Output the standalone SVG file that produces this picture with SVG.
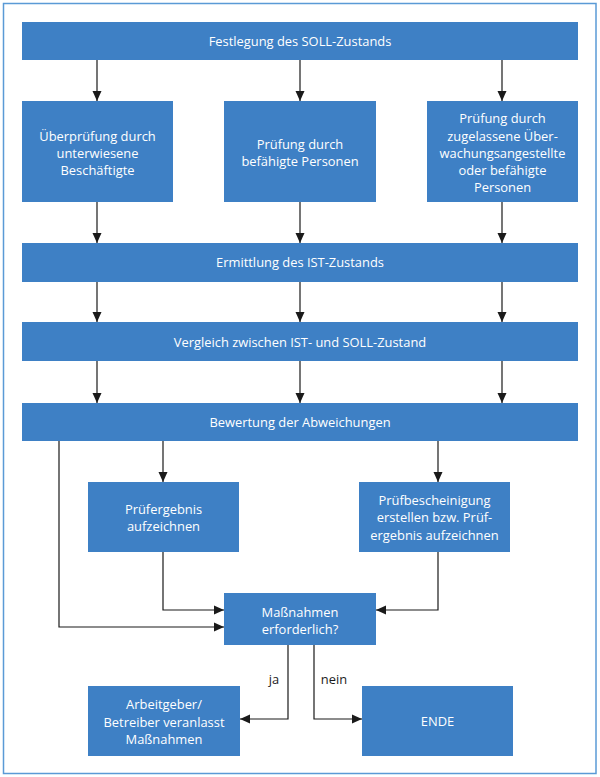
<svg xmlns="http://www.w3.org/2000/svg" width="600" height="777" viewBox="0 0 600 777">
<style>
.box{fill:#3e80c5}
.t{font-family:"Open Sans","Noto Sans",sans-serif;font-size:12.9px;fill:#ffffff;text-anchor:middle}
.l{font-family:"Open Sans","Noto Sans",sans-serif;font-size:12.9px;fill:#1a1a1a;text-anchor:middle}
.c{fill:none;stroke:#1a1a1a;stroke-width:1.2}
</style>
<defs>
<marker id="ah" viewBox="0 0 10 10" refX="10" refY="5" markerWidth="10" markerHeight="10" markerUnits="userSpaceOnUse" orient="auto">
<path d="M0,0.5 L10,5 L0,9.5 Z" fill="#1a1a1a"/>
</marker>
</defs>
<rect x="0" y="0" width="600" height="777" fill="#ffffff"/>
<rect x="3.5" y="3.5" width="592.5" height="770" fill="none" stroke="#5a9ad6" stroke-width="1.5"/>
<g id="connectors">
<path class="c" d="M97,60 V101" marker-end="url(#ah)"/>
<path class="c" d="M300,60 V101" marker-end="url(#ah)"/>
<path class="c" d="M502,60 V101" marker-end="url(#ah)"/>
<path class="c" d="M97,202 V243" marker-end="url(#ah)"/>
<path class="c" d="M300,202 V243" marker-end="url(#ah)"/>
<path class="c" d="M502,202 V243" marker-end="url(#ah)"/>
<path class="c" d="M97,282 V322" marker-end="url(#ah)"/>
<path class="c" d="M300,282 V322" marker-end="url(#ah)"/>
<path class="c" d="M502,282 V322" marker-end="url(#ah)"/>
<path class="c" d="M97,361 V403" marker-end="url(#ah)"/>
<path class="c" d="M300,361 V403" marker-end="url(#ah)"/>
<path class="c" d="M502,361 V403" marker-end="url(#ah)"/>
<path class="c" d="M163,441 V482" marker-end="url(#ah)"/>
<path class="c" d="M438,441 V482" marker-end="url(#ah)"/>
<path class="c" d="M59,441 V627 H224" marker-end="url(#ah)"/>
<path class="c" d="M163,552 V610 H224" marker-end="url(#ah)"/>
<path class="c" d="M438,552 V610 H376" marker-end="url(#ah)"/>
<path class="c" d="M288,645 V719 H240" marker-end="url(#ah)"/>
<path class="c" d="M314,645 V719 H362" marker-end="url(#ah)"/>
<text class="l" x="274" y="684">ja</text>
<text class="l" x="334" y="684">nein</text>
</g>
<g id="soll">
<rect class="box" x="22" y="22" width="556" height="38"/>
<text class="t" x="300" y="45.5">Festlegung des SOLL-Zustands</text>
</g>
<g id="ueberpruefung">
<rect class="box" x="22" y="101" width="151" height="101"/>
<text class="t" x="97.5" y="140.5">Überprüfung durch</text>
<text class="t" x="97.5" y="157.5">unterwiesene</text>
<text class="t" x="97.5" y="174.5">Beschäftigte</text>
</g>
<g id="befaehigte">
<rect class="box" x="224" y="101" width="152" height="101"/>
<text class="t" x="300" y="148.5">Prüfung durch</text>
<text class="t" x="300" y="166">befähigte Personen</text>
</g>
<g id="zugelassene">
<rect class="box" x="427" y="101" width="151" height="101"/>
<text class="t" x="502.5" y="123">Prüfung durch</text>
<text class="t" x="502.5" y="140.5">zugelassene Über-</text>
<text class="t" x="502.5" y="157.5">wachungsangestellte</text>
<text class="t" x="502.5" y="174.5">oder befähigte</text>
<text class="t" x="502.5" y="191.5">Personen</text>
</g>
<g id="ist">
<rect class="box" x="22" y="243" width="556" height="39"/>
<text class="t" x="300" y="267">Ermittlung des IST-Zustands</text>
</g>
<g id="vergleich">
<rect class="box" x="22" y="322" width="556" height="39"/>
<text class="t" x="300" y="346.5">Vergleich zwischen IST- und SOLL-Zustand</text>
</g>
<g id="bewertung">
<rect class="box" x="22" y="403" width="556" height="38"/>
<text class="t" x="300" y="427">Bewertung der Abweichungen</text>
</g>
<g id="pruefergebnis">
<rect class="box" x="88" y="482" width="151" height="70"/>
<text class="t" x="163.5" y="513.5">Prüfergebnis</text>
<text class="t" x="163.5" y="531">aufzeichnen</text>
</g>
<g id="pruefbescheinigung">
<rect class="box" x="359" y="482" width="151" height="70"/>
<text class="t" x="434.5" y="504.5">Prüfbescheinigung</text>
<text class="t" x="434.5" y="522">erstellen bzw. Prüf-</text>
<text class="t" x="434.5" y="539.5">ergebnis aufzeichnen</text>
</g>
<g id="massnahmen">
<rect class="box" x="224" y="593" width="152" height="52"/>
<text class="t" x="300" y="616.5">Maßnahmen</text>
<text class="t" x="300" y="634">erforderlich?</text>
</g>
<g id="arbeitgeber">
<rect class="box" x="88" y="686" width="152" height="70"/>
<text class="t" x="164" y="709">Arbeitgeber/</text>
<text class="t" x="164" y="726.5">Betreiber veranlasst</text>
<text class="t" x="164" y="744">Maßnahmen</text>
</g>
<g id="ende">
<rect class="box" x="362" y="686" width="151" height="70"/>
<text class="t" x="437.5" y="725.5">ENDE</text>
</g>
</svg>
